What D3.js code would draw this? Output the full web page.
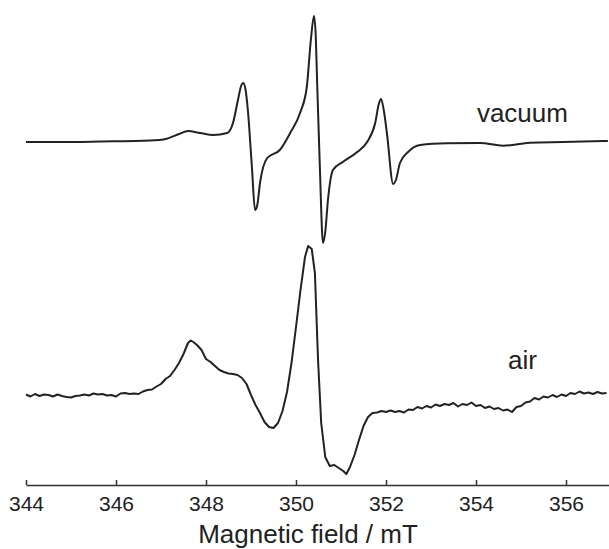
<!DOCTYPE html>
<html>
<head>
<meta charset="utf-8">
<script src="https://cdn.jsdelivr.net/npm/d3@7"></script>
<style>
  html, body { margin: 0; padding: 0; background: #fff; }
  svg { display: block; }
</style>
</head>
<body>
<svg id="chart" width="609" height="549"></svg>
<script>
// ---- data (field in mT, intensity in arbitrary units relative to each trace's baseline) ----
const vacuumField = [344.0, 344.76, 345.64, 346.76, 347.13, 347.4, 347.6, 347.87, 348.16, 348.47, 348.6, 348.71, 348.78, 348.83, 348.88, 348.93, 349.02, 349.09, 349.14, 349.2, 349.36, 349.64, 349.87, 350.09, 350.24, 350.33, 350.4, 350.44, 350.47, 350.53, 350.6, 350.65, 350.71, 350.82, 351.04, 351.36, 351.58, 351.76, 351.84, 351.89, 351.95, 352.02, 352.16, 352.22, 352.31, 352.49, 352.76, 353.36, 354.09, 354.6, 355.2, 355.93, 356.93];
const vacuumSignal = [0, 0, 0.05, 0.15, 0.33, 0.8, 1.1, 0.9, 0.7, 0.9, 1.9, 4.2, 5.6, 5.9, 5.2, 3.2, -2.5, -6.8, -6.3, -4.1, -1.6, -0.8, 0.9, 2.9, 5.5, 10.2, 12.6, 10.5, 5.9, -2.5, -10.1, -9.0, -5.8, -2.8, -2.0, -1.0, 0, 1.9, 3.8, 4.3, 3.2, 0.9, -4.2, -3.8, -2.1, -1.0, -0.3, -0.13, -0.1, -0.37, -0.07, 0, 0.1];

const airField = [344.0, 344.1, 344.2, 344.3, 344.4, 344.5, 344.6, 344.7, 344.8, 344.9, 345.0, 345.1, 345.2, 345.3, 345.4, 345.5, 345.6, 345.7, 345.8, 345.9, 346.0, 346.1, 346.2, 346.3, 346.4, 346.5, 346.6, 346.7, 346.8, 346.9, 347.0, 347.1, 347.2, 347.3, 347.4, 347.5, 347.6, 347.66, 347.72, 347.8, 347.9, 348.0, 348.1, 348.2, 348.3, 348.4, 348.5, 348.6, 348.7, 348.8, 348.9, 349.0, 349.1, 349.2, 349.3, 349.4, 349.5, 349.6, 349.7, 349.8, 349.9, 350.0, 350.1, 350.2, 350.27, 350.35, 350.42, 350.49, 350.56, 350.65, 350.75, 350.85, 350.95, 351.05, 351.12, 351.2, 351.3, 351.4, 351.5, 351.6, 351.7, 351.8, 351.9, 352.0, 352.1, 352.2, 352.3, 352.4, 352.5, 352.6, 352.7, 352.8, 352.9, 353.0, 353.1, 353.2, 353.3, 353.4, 353.5, 353.6, 353.7, 353.8, 353.9, 354.0, 354.1, 354.2, 354.3, 354.4, 354.5, 354.6, 354.7, 354.8, 354.9, 355.0, 355.1, 355.2, 355.3, 355.4, 355.5, 355.6, 355.7, 355.8, 355.9, 356.0, 356.1, 356.2, 356.3, 356.4, 356.5, 356.6, 356.7, 356.8, 356.9];
const airSignal = [0.05, -0.15, 0.1, -0.1, 0.05, 0.0, -0.15, 0.05, -0.1, -0.2, -0.25, -0.1, -0.05, 0.05, -0.05, 0.15, 0.05, 0.1, -0.05, 0.0, -0.15, 0.15, 0.2, 0.1, 0.15, 0.1, 0.35, 0.5, 0.55, 0.85, 1.1, 1.6, 1.9, 2.5, 3.2, 4.1, 5.2, 5.45, 5.3, 5.0, 4.5, 3.6, 3.3, 2.9, 2.5, 2.3, 2.15, 2.1, 2.0, 1.7, 1.1, 0.0, -1.0, -1.8, -2.7, -3.2, -3.3, -2.8, -1.6, 0.3, 3.2, 6.8, 10.5, 13.8, 14.9, 14.6, 12.2, 3.5, -2.8, -6.2, -7.1, -7.0, -7.3, -7.6, -7.9, -7.2, -6.0, -4.5, -3.1, -2.2, -1.8, -1.75, -1.6, -1.7, -1.55, -1.7, -1.6, -1.75, -1.45, -1.5, -1.2, -1.35, -1.1, -1.25, -0.95, -1.1, -0.9, -1.0, -0.8, -1.15, -0.9, -1.0, -0.75, -1.1, -1.0, -1.3, -1.15, -1.4, -1.3, -1.55, -1.45, -1.7, -1.2, -1.1, -0.75, -0.65, -0.3, -0.45, -0.15, -0.25, 0.0, -0.2, 0.05, -0.1, 0.2, 0.1, 0.35, 0.15, 0.25, 0.1, 0.3, 0.15, 0.2];

const traceNames = ["vacuum", "air"];
const traceOffsets = [34.3, 9.0];          // vertical stacking offsets (a.u.)
const labelFields = [354.02, 354.71];      // where each trace label starts (mT)
const xTicks = [344, 346, 348, 350, 352, 354, 356];
const xDomain = [344, 357];
const xTitle = "Magnetic field / mT";

// ---- drawing ----
const svg = d3.select("#chart");
const axisY = 485;
const FONT = "Liberation Sans, Arial, sans-serif";

const x = d3.scaleLinear().domain(xDomain).range([26, 611]);
const y = d3.scaleLinear().domain([0, 48.5]).range([axisY, 0]);

const traces = [
  { name: traceNames[0], field: vacuumField, sig: vacuumSignal, off: traceOffsets[0], curve: d3.curveMonotoneX },
  { name: traceNames[1], field: airField, sig: airSignal, off: traceOffsets[1], curve: d3.curveLinear }
];

traces.forEach(t => {
  const pts = t.field.map((f, j) => [f, t.sig[j] + t.off]);
  const line = d3.line().x(d => x(d[0])).y(d => y(d[1])).curve(t.curve);
  svg.append("path")
    .attr("d", line(pts))
    .attr("fill", "none")
    .attr("stroke", "#222")
    .attr("stroke-width", 2)
    .attr("stroke-linejoin", "round");
});

// trace labels
svg.append("text").text(traceNames[0])
  .attr("x", x(labelFields[0])).attr("y", y(traceOffsets[0] + 2.0))
  .attr("font-family", FONT).attr("font-size", 26).attr("fill", "#222");
svg.append("text").text(traceNames[1])
  .attr("x", x(labelFields[1])).attr("y", y(traceOffsets[1] + 2.6))
  .attr("font-family", FONT).attr("font-size", 26).attr("fill", "#222");

// x axis
const axis = d3.axisBottom(x)
  .tickValues(xTicks)
  .tickFormat(d3.format("d"))
  .tickSizeInner(-5)
  .tickSizeOuter(0)
  .tickPadding(11);

const gx = svg.append("g")
  .attr("transform", `translate(0,${axisY})`)
  .call(axis);
gx.select(".domain").attr("stroke", "#333").attr("stroke-width", 1.5);
gx.selectAll(".tick line").attr("stroke", "#333").attr("stroke-width", 1.5);
gx.selectAll(".tick text")
  .attr("font-family", FONT).attr("font-size", 21).attr("fill", "#222");

svg.append("text").text(xTitle)
  .attr("x", 308).attr("y", 543)
  .attr("text-anchor", "middle")
  .attr("font-family", FONT).attr("font-size", 26).attr("fill", "#222");
</script>
</body>
</html>
